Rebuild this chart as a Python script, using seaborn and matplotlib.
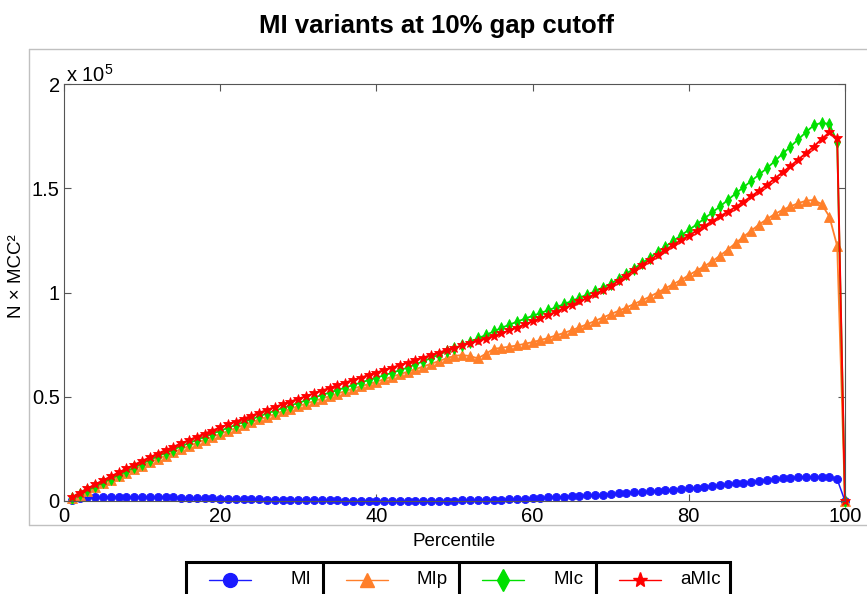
import matplotlib
matplotlib.use("Agg")
import matplotlib.pyplot as plt
import numpy as np
import pandas as pd
import seaborn as sns
from matplotlib.lines import Line2D
from matplotlib.patches import Rectangle

# ---- data (values in thousands) ----
percentile = list(range(1, 101))

mi = [0.6, 1.6, 1.7, 1.8, 1.8, 1.9, 1.9, 1.9, 1.9, 1.9,
      1.9, 1.8, 1.8, 1.7, 1.6, 1.5, 1.4, 1.3, 1.2, 1.1,
      1.0, 1.0, 0.9, 0.8, 0.8, 0.7, 0.6, 0.6, 0.5, 0.5,
      0.4, 0.4, 0.3, 0.3, 0.3, 0.2, 0.2, 0.2, 0.1, 0.1,
      0.1, 0.1, 0.1, 0.1, 0.1, 0.1, 0.1, 0.2, 0.2, 0.2,
      0.3, 0.3, 0.4, 0.5, 0.6, 0.7, 0.8, 0.9, 1.1, 1.3,
      1.5, 1.7, 1.9, 2.1, 2.3, 2.5, 2.7, 2.9, 3.1, 3.4,
      3.6, 3.9, 4.1, 4.4, 4.6, 4.9, 5.2, 5.5, 5.8, 6.1,
      6.4, 6.8, 7.2, 7.6, 8.0, 8.4, 8.8, 9.2, 9.6, 10.0,
      10.4, 10.8, 11.1, 11.4, 11.6, 11.7, 11.7, 11.4, 10.4, 0.0]

mip = [1.2, 3.0, 4.8, 6.6, 8.4, 10.1, 11.8, 13.5, 15.2, 16.9,
       18.6, 20.2, 21.8, 23.4, 24.9, 26.4, 27.9, 29.4, 30.8, 32.2,
       33.6, 35.0, 36.4, 37.8, 39.1, 40.4, 41.7, 43.0, 44.2, 45.5,
       46.7, 47.9, 49.1, 50.3, 51.5, 52.7, 53.9, 55.0, 56.1, 57.2,
       58.4, 59.6, 60.8, 62.0, 63.2, 64.5, 65.8, 67.1, 68.5, 69.6,
       70.0, 69.5, 68.4, 70.6, 72.9, 73.5, 74.0, 74.6, 75.4, 76.2,
       77.2, 78.2, 79.4, 80.6, 81.9, 83.3, 84.8, 86.4, 88.0, 89.6,
       91.2, 92.8, 94.5, 96.2, 98.0, 100.0, 102.0, 104.0, 106.0, 108.3,
       110.5, 112.6, 115.0, 117.7, 120.6, 123.7, 126.7, 129.7, 132.6, 135.2,
       137.6, 139.6, 141.3, 142.8, 144.0, 144.4, 142.4, 136.4, 122.3, 0.0]

mic = [1.3, 3.2, 5.1, 7.0, 8.9, 10.7, 12.5, 14.3, 16.1, 17.9,
       19.7, 21.4, 23.1, 24.7, 26.2, 27.8, 29.3, 30.8, 32.3, 33.7,
       35.1, 36.5, 37.9, 39.2, 40.6, 42.0, 43.3, 44.6, 45.8, 47.0,
       48.3, 49.6, 50.8, 52.0, 53.2, 54.4, 55.6, 56.8, 58.0, 59.1,
       60.3, 61.5, 62.7, 64.0, 65.5, 67.0, 68.6, 70.2, 71.8, 73.3,
       74.8, 76.4, 78.0, 79.6, 81.3, 83.0, 84.5, 86.0, 87.4, 88.8,
       90.1, 91.5, 92.9, 94.4, 95.9, 97.5, 99.0, 100.6, 102.3, 104.2,
       106.5, 109.0, 111.5, 114.0, 116.7, 119.4, 122.0, 124.7, 127.4, 130.0,
       132.6, 135.5, 138.4, 141.3, 144.4, 147.5, 150.5, 153.5, 156.6, 159.6,
       163.0, 166.5, 169.9, 173.4, 176.9, 180.2, 181.4, 180.8, 172.3, 0.0]

amic = [1.8, 4.0, 6.0, 8.0, 9.9, 11.8, 13.7, 15.6, 17.4, 19.2,
        21.0, 22.7, 24.4, 26.0, 27.6, 29.2, 30.8, 32.3, 33.8, 35.3,
        36.7, 38.1, 39.5, 40.9, 42.3, 43.7, 45.1, 46.4, 47.7, 49.0,
        50.3, 51.6, 52.9, 54.2, 55.5, 56.8, 58.0, 59.2, 60.4, 61.6,
        62.8, 64.0, 65.2, 66.4, 67.6, 68.8, 70.0, 71.2, 72.4, 73.5,
        74.6, 75.7, 76.8, 77.9, 79.1, 80.4, 81.8, 83.2, 84.7, 86.2,
        87.7, 89.2, 90.8, 92.4, 94.0, 95.7, 97.4, 99.2, 101.1, 103.2,
        105.5, 108.0, 110.6, 113.2, 115.6, 118.0, 120.4, 122.8, 125.1, 127.3,
        129.6, 131.9, 134.2, 136.5, 138.8, 141.0, 143.5, 146.1, 148.8, 151.6,
        154.6, 157.6, 160.6, 163.7, 166.8, 170.0, 173.5, 176.8, 174.0, 0.0]

series_names = ["MI", "MIp", "MIc", "aMIc"]
series_values = [mi, mip, mic, amic]
x_ticks = [0, 20, 40, 60, 80, 100]
y_ticks = [0, 0.5e5, 1e5, 1.5e5, 2e5]
y_tick_labels = ["0", "0.5", "1", "1.5", "2"]

df = pd.concat(
    [pd.DataFrame({"Percentile": percentile,
                   "value": np.array(v) * 1e3,
                   "series": n})
     for n, v in zip(series_names, series_values)],
    ignore_index=True)

# ---- style ----
sns.set_style("ticks")
plt.rcParams["font.family"] = ["Liberation Sans", "DejaVu Sans"]
plt.rcParams["text.color"] = "black"
plt.rcParams["axes.labelcolor"] = "black"
plt.rcParams["xtick.color"] = "black"
plt.rcParams["ytick.color"] = "black"
plt.rcParams["mathtext.fontset"] = "custom"
plt.rcParams["mathtext.rm"] = "Liberation Sans"
plt.rcParams["mathtext.it"] = "Liberation Sans:italic"
plt.rcParams["mathtext.bf"] = "Liberation Sans:bold"

W, H = 867, 594
fig = plt.figure(figsize=(W / 100, H / 100), dpi=100)
fig.patch.set_facecolor("white")


def fx(px):
    return px / W


def fy(py):
    return 1 - py / H


ax = fig.add_axes([fx(64), fy(501), (845 - 64) / W, (501 - 84) / H])
ax.set_facecolor("white")

styles = {
    "MI":   dict(color="#1a1aff", marker="o", ms=5.8, lw=1.1),
    "MIp":  dict(color="#ff7f2a", marker="^", ms=6.5, lw=1.3),
    "MIc":  dict(color="#00e000", marker="d", ms=5.8, lw=1.3),
    "aMIc": dict(color="#ff0000", marker="*", ms=7.5, lw=1.4),
}

for name in series_names:
    st = styles[name]
    sns.lineplot(data=df[df["series"] == name], x="Percentile", y="value",
                 ax=ax, color=st["color"], marker=st["marker"],
                 markersize=st["ms"], markeredgecolor=st["color"],
                 markeredgewidth=0.6, linewidth=st["lw"],
                 errorbar=None, legend=False, clip_on=False)

ax.set_xlim(0, 100)
ax.set_ylim(0, 2e5)
ax.set_xticks(x_ticks)
ax.set_xticklabels([str(t) for t in x_ticks])
ax.set_yticks(y_ticks)
ax.set_yticklabels(y_tick_labels)
ax.tick_params(direction="in", length=5, width=0.8, top=True, right=True,
               color="#555555", labelsize=14.5, pad=3, labelcolor="black")
ax.tick_params(axis="x", pad=4)
for sp in ax.spines.values():
    sp.set_color("#555555")
    sp.set_linewidth(0.8)
    sp.set_visible(True)

ax.set_xlabel("Percentile", fontsize=13.5, color="black")
ax.xaxis.set_label_coords(0.5, -0.077)
ax.set_ylabel("N × MCC²", fontsize=13.5, color="black")
ax.yaxis.set_label_coords(-0.05, 0.54)

# exponent marker above the y axis
ax.text(0.002, 1.005, r"x 10$^{5}$", transform=ax.transAxes,
        fontsize=14.5, ha="left", va="baseline", color="black")

# title
fig.text(0.503, fy(33), "MI variants at 10% gap cutoff", fontsize=18.5,
         fontweight="bold", ha="center", va="baseline", color="black")

# light frame around the plotting area
frame_color = "#c0c0c0"
fig.add_artist(Line2D([fx(29), fx(867)], [fy(49), fy(49)],
                      transform=fig.transFigure, color=frame_color, lw=1))
fig.add_artist(Line2D([fx(29), fx(867)], [fy(525), fy(525)],
                      transform=fig.transFigure, color=frame_color, lw=1))
fig.add_artist(Line2D([fx(29), fx(29)], [fy(49), fy(525)],
                      transform=fig.transFigure, color=frame_color, lw=1))

# horizontal legend strip with cell separators
cells = [186, 323, 459, 596]
right_edge = 730
top, bottom = 562, 602
fig.add_artist(Rectangle((fx(cells[0]), fy(bottom)),
                         (right_edge - cells[0]) / W, (bottom - top) / H,
                         transform=fig.transFigure, fill=False,
                         ec="black", lw=2.2, clip_on=False))
for c in cells[1:]:
    fig.add_artist(Line2D([fx(c), fx(c)], [fy(top), fy(bottom)],
                          transform=fig.transFigure, color="black", lw=2.2))

legend_ms = {"MI": 10, "MIp": 10, "MIc": 11, "aMIc": 11}
for c, name in zip(cells, series_names):
    st = styles[name]
    fig.add_artist(Line2D([fx(c + 23), fx(c + 65)], [fy(580), fy(580)],
                          transform=fig.transFigure, color=st["color"], lw=1))
    fig.add_artist(Line2D([fx(c + 44)], [fy(580)], transform=fig.transFigure,
                          color=st["color"], marker=st["marker"],
                          markersize=legend_ms[name],
                          markeredgecolor=st["color"], linestyle="none"))
    fig.text(fx(c + 125), fy(580), name, fontsize=13.5, ha="right",
             va="center", color="black")

fig.savefig("out.png", dpi=100, facecolor="white")
